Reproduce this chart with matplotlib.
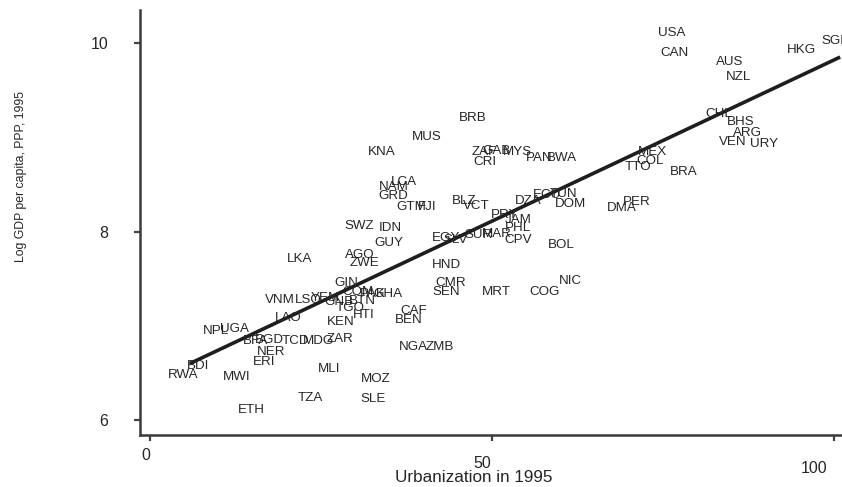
import matplotlib
matplotlib.use("Agg")
import matplotlib.pyplot as plt
import matplotlib.transforms as mtransforms
import numpy as np

# ---------------- data ----------------
codes = ["USA", "CAN", "AUS", "NZL", "HKG", "SGP", "CHL", "BHS", "ARG", "VEN",
         "URY", "MEX", "COL", "TTO", "BRA", "PER", "DMA", "BRB", "MUS", "KNA",
         "ZAF", "GAB", "MYS", "CRI", "PAN", "BWA", "LCA", "NAM", "GRD", "GTM",
         "FJI", "BLZ", "VCT", "DZA", "ECU", "TUN", "DOM", "PRY", "JAM", "PHL",
         "EGY", "SLV", "SUR", "MAR", "CPV", "BOL", "SWZ", "IDN", "GUY", "LKA",
         "AGO", "ZWE", "HND", "GIN", "CMR", "SEN", "MRT", "COG", "NIC", "VNM",
         "LSO", "YEM", "GNB", "BTN", "COM", "PAK", "GHA", "TGO", "HTI", "KEN",
         "LAO", "CAF", "BEN", "NPL", "UGA", "BFA", "BGD", "TCD", "MDG", "ZAR",
         "NER", "ERI", "BDI", "RWA", "MWI", "ETH", "MLI", "TZA", "MOZ", "SLE",
         "NGA", "ZMB"]
urbanization = [76.3, 76.75, 84.8, 86.0, 95.2, 100.3, 83.2, 86.4, 87.4, 85.2,
                89.8, 73.4, 73.1, 71.3, 78.1, 71.2, 68.9, 47.2, 40.5, 33.9,
                48.8, 50.6, 53.7, 49.0, 56.9, 60.2, 37.1, 35.7, 35.5, 38.2,
                40.5, 45.9, 47.7, 55.3, 58.0, 60.5, 61.5, 51.9, 53.8, 53.8,
                43.3, 44.7, 48.1, 50.7, 53.8, 60.1, 30.6, 35.2, 34.9, 21.8,
                30.6, 31.3, 43.3, 28.7, 44.0, 43.3, 50.6, 57.7, 61.5, 19.0,
                23.2, 25.7, 27.6, 31.0, 30.4, 32.6, 34.8, 29.2, 31.3, 27.9,
                20.2, 38.6, 37.9, 9.6, 12.3, 15.4, 17.5, 21.2, 24.6, 27.8,
                17.7, 16.7, 7.0, 4.8, 12.7, 14.8, 26.2, 23.4, 33.0, 32.6,
                38.5, 42.4]
log_gdp = [10.11, 9.894, 9.798, 9.639, 9.926, 10.02, 9.247, 9.162, 9.045, 8.950,
           8.928, 8.844, 8.748, 8.684, 8.631, 8.313, 8.249, 9.204, 9.003, 8.844,
           8.844, 8.854, 8.844, 8.737, 8.780, 8.780, 8.525, 8.472, 8.377, 8.260,
           8.260, 8.324, 8.271, 8.324, 8.387, 8.398, 8.292, 8.175, 8.122, 8.037,
           7.931, 7.910, 7.963, 7.973, 7.910, 7.857, 8.058, 8.037, 7.878, 7.708,
           7.751, 7.666, 7.645, 7.454, 7.454, 7.358, 7.358, 7.358, 7.475, 7.273,
           7.273, 7.294, 7.252, 7.263, 7.358, 7.337, 7.337, 7.188, 7.114, 7.040,
           7.082, 7.157, 7.061, 6.944, 6.966, 6.838, 6.849, 6.838, 6.838, 6.859,
           6.721, 6.615, 6.573, 6.477, 6.456, 6.106, 6.541, 6.233, 6.435, 6.223,
           6.775, 6.775]

fit_intercept = 6.40
fit_slope = 0.0342
fit_x_range = [5.8, 100.9]

x_ticks = [0, 50, 100]
x_tick_labels = ["0", "50", "100"]
y_ticks = [6, 8, 10]
y_tick_labels = ["6", "8", "10"]

x_label = "Urbanization in 1995"
y_label = "Log GDP per capita, PPP, 1995"

# ---------------- figure ----------------
plt.rcParams["font.family"] = ["Liberation Sans", "DejaVu Sans"]
W, H = 842, 487
fig = plt.figure(figsize=(W / 100, H / 100), dpi=100)
ax = fig.add_axes([140 / W, 52 / H, 703 / W, 425 / H])
ax.set_xlim(-1.46, 101.32)
ax.set_ylim(5.841, 10.35)

ink = "#262626"
for c, x, y in zip(codes, urbanization, log_gdp):
    ax.text(x, y, c, ha="center", va="center", fontsize=9.6, color=ink,
            clip_on=False, zorder=3)

xs = np.array(fit_x_range)
ax.plot(xs, fit_intercept + fit_slope * xs, color="#1e1e1e", lw=2.6,
        solid_capstyle="butt", clip_on=False, zorder=2)

for s in ["top", "right"]:
    ax.spines[s].set_visible(False)
for s in ["left", "bottom"]:
    ax.spines[s].set_color("#3a3a3a")
    ax.spines[s].set_linewidth(1.8)

ax.set_xticks(x_ticks)
ax.set_xticklabels(x_tick_labels)
ax.set_yticks(y_ticks)
ax.set_yticklabels(y_tick_labels)
ax.tick_params(axis="both", direction="out", length=4, width=1.6,
               color="#444444", labelcolor=ink, labelsize=11.5)
ax.tick_params(axis="y", pad=19)
ax.tick_params(axis="x", pad=5)

# slight offsets of the x tick labels as in the scanned original
offsets = [(-3, 0), (-7, -6), (-14, -10)]
for lab, (dx, dy) in zip(ax.get_xticklabels(), offsets):
    lab.set_transform(lab.get_transform() +
                      mtransforms.ScaledTranslation(dx / 72, dy / 72, fig.dpi_scale_trans))

fig.text(474 / W, 1 - 477 / H, x_label, ha="center", va="center",
         fontsize=12.3, color=ink)
fig.text(21 / W, 1 - 176 / H, y_label, ha="center", va="center",
         rotation=90, fontsize=8.8, color=ink)

fig.savefig("out.png", dpi=100, facecolor="white")
